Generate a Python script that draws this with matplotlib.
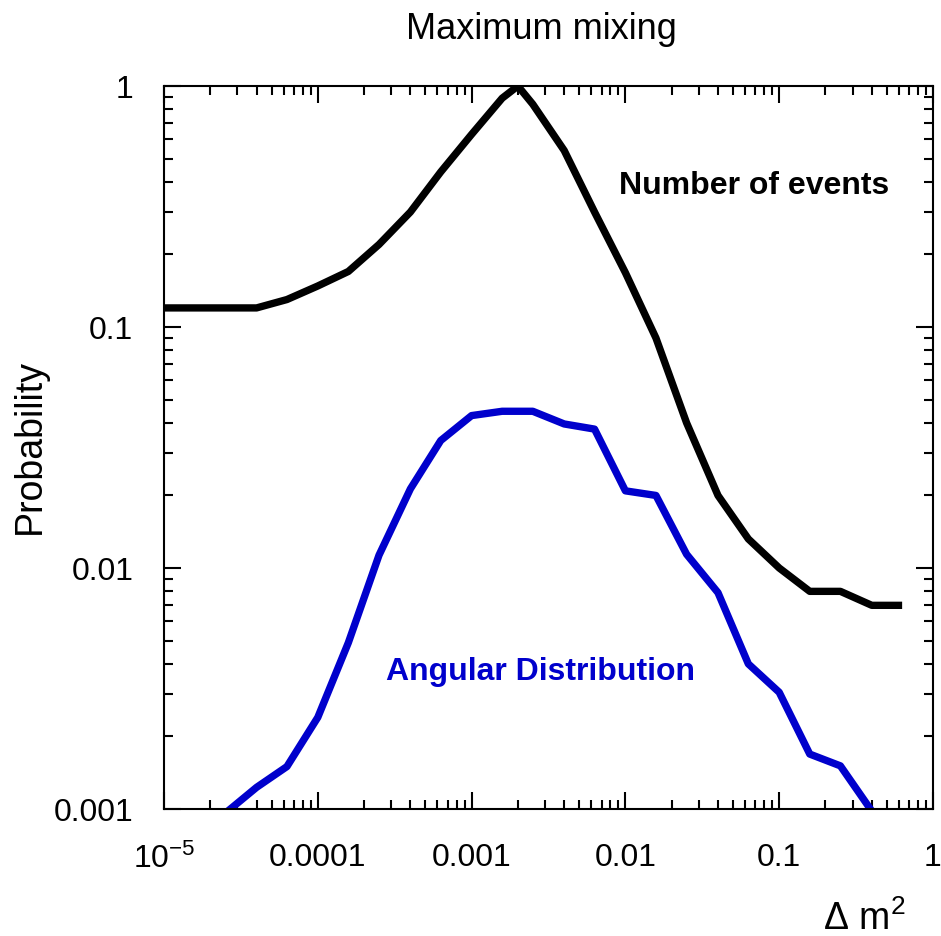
import matplotlib
matplotlib.use("Agg")
import matplotlib.pyplot as plt
import numpy as np

plt.rcParams['font.family'] = ['Liberation Sans', 'DejaVu Sans']
plt.rcParams['mathtext.fontset'] = 'custom'
plt.rcParams['mathtext.rm'] = 'Liberation Sans'
plt.rcParams['mathtext.it'] = 'Liberation Sans:italic'
plt.rcParams['mathtext.bf'] = 'Liberation Sans:bold'

# Number of events (black)
dm2_events = [1e-5, 1.58e-5, 2.5e-5, 4e-5, 6.3e-5, 1e-4, 1.58e-4, 2.5e-4, 4e-4,
              6.3e-4, 1e-3, 1.58e-3, 2e-3, 2.5e-3, 4e-3, 6.3e-3, 1e-2, 1.58e-2,
              2.5e-2, 4e-2, 6.3e-2, 0.1, 0.158, 0.25, 0.4, 0.63]
p_events = [0.12, 0.12, 0.12, 0.12, 0.13, 0.148, 0.17, 0.22, 0.30,
            0.44, 0.63, 0.89, 1.0, 0.84, 0.54, 0.30, 0.168, 0.09,
            0.040, 0.020, 0.0132, 0.0100, 0.0080, 0.0080, 0.0070, 0.0070]

# Angular distribution (blue)
dm2_angular = [2.5e-5, 4e-5, 6.3e-5, 1e-4, 1.58e-4, 2.5e-4, 4e-4, 6.3e-4, 1e-3,
               1.58e-3, 2.5e-3, 4e-3, 6.3e-3, 1e-2, 1.58e-2, 2.5e-2, 4e-2,
               6.3e-2, 0.1, 0.158, 0.25, 0.4]
p_angular = [0.00096, 0.00123, 0.0015, 0.0024, 0.0049, 0.0113, 0.0213, 0.0338, 0.0429,
             0.0447, 0.0447, 0.0396, 0.0377, 0.0209, 0.0200, 0.0114, 0.0079,
             0.0040, 0.00305, 0.00169, 0.00151, 0.00098]

xtick_vals = [1e-5, 1e-4, 1e-3, 1e-2, 1e-1, 1]
xtick_labels = ['$\\mathregular{10^{-5}}$', '0.0001', '0.001', '0.01', '0.1', '1']
ytick_vals = [1e-3, 1e-2, 1e-1, 1]
ytick_labels = ['0.001', '0.01', '0.1', '1']

fig = plt.figure(figsize=(9.41, 9.37), dpi=100)
ax = fig.add_axes([164/941, 1-810/937, (933-164)/941, (810-87)/937])

ax.plot(dm2_events, p_events, color='black', lw=5.3, solid_capstyle='butt')
ax.plot(dm2_angular, p_angular, color='#0000cc', lw=5.3, solid_capstyle='butt')

ax.set_xscale('log')
ax.set_yscale('log')
ax.set_xlim(1e-5, 1)
ax.set_ylim(1e-3, 1)

ax.set_xticks(xtick_vals)
ax.set_xticklabels(xtick_labels)
ax.set_yticks(ytick_vals)
ax.set_yticklabels(ytick_labels)
ax.xaxis.set_minor_locator(matplotlib.ticker.LogLocator(base=10, subs=np.arange(2, 10)))
ax.yaxis.set_minor_locator(matplotlib.ticker.LogLocator(base=10, subs=np.arange(2, 10)))
ax.xaxis.set_minor_formatter(matplotlib.ticker.NullFormatter())
ax.yaxis.set_minor_formatter(matplotlib.ticker.NullFormatter())

ax.tick_params(which='both', direction='in', top=True, right=True, width=1.5)
ax.tick_params(which='major', length=12, labelsize=23)
ax.tick_params(which='minor', length=6.5)
ax.tick_params(axis='x', which='major', pad=24)
ax.tick_params(axis='y', which='major', pad=22)
for s in ax.spines.values():
    s.set_linewidth(1.5)

ax.text(0.0686, 0.39, 'Number of events', fontsize=23, fontweight='bold',
        ha='center', va='center', color='black')
ax.text(2.82e-3, 0.00374, 'Angular Distribution', fontsize=23, fontweight='bold',
        ha='center', va='center', color='#0000cc')

fig.text(541/941, 1-39/937, 'Maximum mixing', fontsize=26, ha='center', va='baseline')
fig.text(30/941, 1-446/937, 'Probability', fontsize=27, rotation=90, ha='center', va='center')
fig.text(905/941, 1-930/937, 'Δ m$^2$', fontsize=27, ha='right', va='baseline')

fig.savefig('out.png', dpi=100)
